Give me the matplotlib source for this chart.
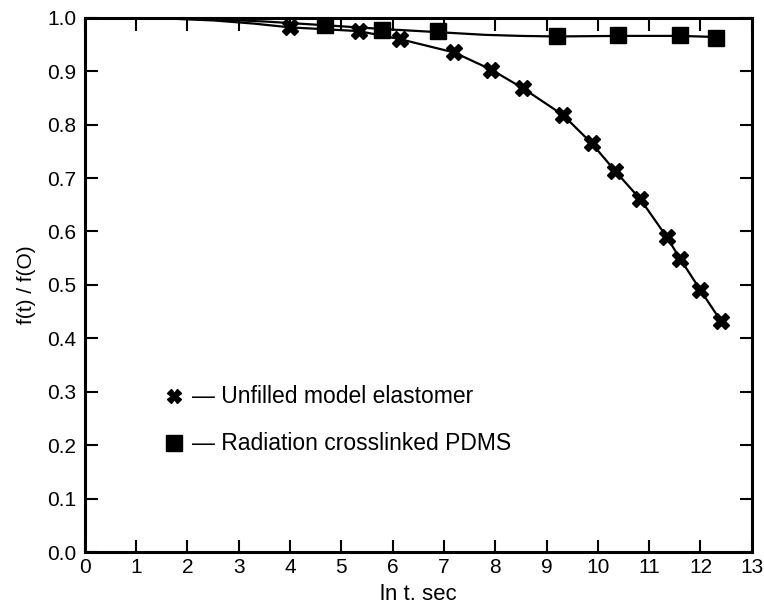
import numpy as np
import matplotlib
matplotlib.use("Agg")
import matplotlib.pyplot as plt

plt.rcParams['font.family'] = ['Liberation Sans', 'DejaVu Sans']

# unfilled model elastomer (crosses)
x_unfilled = [4.0, 5.34, 6.14, 7.2, 7.92, 8.54, 9.32, 9.88, 10.33, 10.83, 11.34, 11.61, 12.0, 12.4]
y_unfilled = [0.982, 0.975, 0.960, 0.935, 0.903, 0.868, 0.818, 0.765, 0.714, 0.660, 0.590, 0.548, 0.490, 0.432]

# radiation crosslinked PDMS (squares)
x_pdms = [4.68, 5.79, 6.89, 9.2, 10.4, 11.6, 12.3]
y_pdms = [0.986, 0.977, 0.975, 0.965, 0.967, 0.967, 0.962]

# drawn curves, starting at f(t)/f(0) = 1
curve_unfilled_x = [0.0, 1.5, 2.5, 3.3] + x_unfilled
curve_unfilled_y = [1.0, 0.999, 0.995, 0.989] + y_unfilled
curve_pdms_x = [0.0, 1.5, 2.5, 3.5, 4.68, 5.79, 6.89, 7.8, 8.5, 9.2, 10.4, 11.6, 12.3]
curve_pdms_y = [1.0, 0.999, 0.997, 0.993, 0.986, 0.979, 0.973, 0.968, 0.966, 0.965, 0.966, 0.966, 0.964]

xticks = list(range(0, 14))
yticks = [round(0.1 * i, 1) for i in range(11)]

legend_labels = ["— Unfilled model elastomer", "— Radiation crosslinked PDMS"]

fig = plt.figure(figsize=(7.64, 6.12), dpi=100)
ax = fig.add_axes([0.111, 0.098, 0.873, 0.873])

ax.plot(curve_unfilled_x, curve_unfilled_y, color='black', lw=1.6)
ax.plot(curve_pdms_x, curve_pdms_y, color='black', lw=1.6)
ax.plot(x_unfilled, y_unfilled, ls='none', marker='X', ms=12, color='black')
ax.plot(x_pdms, y_pdms, ls='none', marker='s', ms=12, color='black')

ax.set_xlim(0, 13)
ax.set_ylim(0, 1.0)
ax.set_xticks(xticks)
ax.set_yticks(yticks)
ax.set_yticklabels([f"{v:.1f}" for v in yticks])
ax.tick_params(direction='in', length=9, width=1.5, labelsize=15,
               top=True, right=True)
ax.tick_params(axis='x', pad=4)
ax.tick_params(axis='y', pad=6)
for s in ax.spines.values():
    s.set_linewidth(2.2)

ax.set_xlabel("ln t. sec", fontsize=16, labelpad=5)
ax.set_ylabel("f(t) / f(O)", fontsize=15, labelpad=8)

# key drawn inside the axes
ax.plot([0.134], [0.292], transform=ax.transAxes, marker='X', ms=10,
        color='black', ls='none', clip_on=False)
ax.plot([0.134], [0.204], transform=ax.transAxes, marker='s', ms=12,
        color='black', ls='none', clip_on=False)
ax.text(0.16, 0.292, legend_labels[0], transform=ax.transAxes,
        fontsize=16.5, va='center', ha='left')
ax.text(0.16, 0.204, legend_labels[1], transform=ax.transAxes,
        fontsize=16.5, va='center', ha='left')

fig.savefig("out.png", dpi=100)
